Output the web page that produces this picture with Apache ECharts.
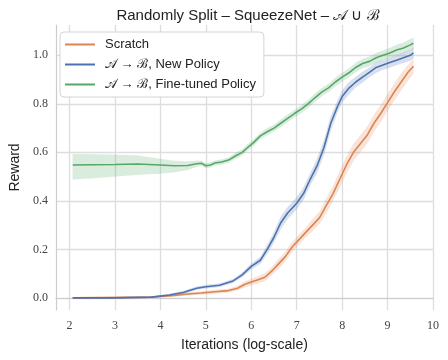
<!DOCTYPE html>
<html>
<head>
<meta charset="utf-8">
<script src="https://cdn.jsdelivr.net/npm/echarts@6/dist/echarts.min.js"></script>
<style>
  html, body { margin: 0; padding: 0; background: #fff; }
  #chart { width: 448px; height: 360px; }
</style>
</head>
<body>
<div id="chart"></div>
<script>
  // values
  var xTicks = [2, 3, 4, 5, 6, 7, 8, 9, 10];
  var yTicks = [0, 0.2, 0.4, 0.6, 0.8, 1.0];

  // Scratch
  var oX    = [2.07, 3.8, 4.3, 4.6, 4.9, 5.2, 5.5, 5.7, 5.85, 6.0, 6.15, 6.3, 6.45, 6.6, 6.75, 6.9, 7.05, 7.2, 7.35, 7.5, 7.65, 7.8, 7.95, 8.1, 8.25, 8.4, 8.55, 8.7, 8.85, 9.0, 9.15, 9.3, 9.45, 9.57];
  var oMean = [0, 0.003, 0.01, 0.016, 0.02, 0.025, 0.03, 0.04, 0.055, 0.065, 0.075, 0.085, 0.11, 0.14, 0.17, 0.21, 0.24, 0.27, 0.3, 0.33, 0.38, 0.43, 0.49, 0.55, 0.6, 0.635, 0.67, 0.72, 0.76, 0.805, 0.85, 0.89, 0.93, 0.955];
  var oLo   = [0, 0.0, 0.005, 0.01, 0.013, 0.017, 0.022, 0.03, 0.043, 0.052, 0.06, 0.07, 0.093, 0.12, 0.15, 0.19, 0.22, 0.25, 0.275, 0.305, 0.35, 0.4, 0.455, 0.515, 0.565, 0.6, 0.635, 0.685, 0.725, 0.77, 0.815, 0.855, 0.895, 0.925];
  var oHi   = [0, 0.006, 0.015, 0.022, 0.027, 0.033, 0.038, 0.05, 0.067, 0.078, 0.09, 0.1, 0.127, 0.16, 0.19, 0.23, 0.26, 0.29, 0.325, 0.355, 0.41, 0.46, 0.525, 0.585, 0.635, 0.67, 0.705, 0.755, 0.795, 0.84, 0.885, 0.925, 0.96, 0.985];

  // A -> B, New Policy
  var bX    = [2.07, 3.0, 3.8, 4.2, 4.5, 4.8, 5.0, 5.3, 5.6, 5.8, 6.0, 6.2, 6.35, 6.5, 6.65, 6.8, 7.0, 7.15, 7.3, 7.45, 7.6, 7.75, 7.9, 8.0, 8.15, 8.3, 8.45, 8.6, 8.75, 8.9, 9.05, 9.2, 9.35, 9.5, 9.57];
  var bMean = [0, 0, 0.003, 0.012, 0.022, 0.04, 0.046, 0.052, 0.07, 0.095, 0.13, 0.155, 0.2, 0.25, 0.31, 0.35, 0.39, 0.43, 0.49, 0.545, 0.62, 0.72, 0.79, 0.83, 0.865, 0.89, 0.91, 0.93, 0.95, 0.96, 0.97, 0.98, 0.99, 1.0, 1.01];
  var bLo   = [0, 0, 0.0, 0.007, 0.016, 0.033, 0.039, 0.045, 0.062, 0.085, 0.118, 0.14, 0.182, 0.228, 0.285, 0.325, 0.365, 0.405, 0.465, 0.515, 0.59, 0.69, 0.765, 0.805, 0.84, 0.868, 0.888, 0.91, 0.928, 0.94, 0.95, 0.96, 0.968, 0.978, 0.987];
  var bHi   = [0, 0, 0.006, 0.017, 0.028, 0.047, 0.053, 0.059, 0.078, 0.105, 0.142, 0.17, 0.218, 0.272, 0.335, 0.375, 0.415, 0.455, 0.515, 0.575, 0.65, 0.75, 0.815, 0.855, 0.89, 0.912, 0.932, 0.95, 0.972, 0.98, 0.99, 1.0, 1.012, 1.022, 1.033];

  // A -> B, Fine-tuned Policy
  var gX    = [2.07, 2.5, 3.0, 3.5, 4.0, 4.3, 4.6, 4.8, 4.9, 5.0, 5.1, 5.2, 5.35, 5.5, 5.65, 5.8, 5.95, 6.05, 6.2, 6.35, 6.5, 6.65, 6.8, 6.95, 7.1, 7.25, 7.4, 7.55, 7.7, 7.85, 8.0, 8.15, 8.3, 8.45, 8.6, 8.75, 8.9, 9.05, 9.2, 9.35, 9.5, 9.57];
  var gMean = [0.548, 0.549, 0.55, 0.552, 0.548, 0.545, 0.546, 0.553, 0.555, 0.545, 0.548, 0.556, 0.56, 0.568, 0.585, 0.6, 0.625, 0.64, 0.668, 0.685, 0.7, 0.72, 0.74, 0.76, 0.778, 0.8, 0.825, 0.848, 0.866, 0.89, 0.91, 0.928, 0.95, 0.966, 0.975, 0.99, 1.0, 1.01, 1.022, 1.03, 1.043, 1.05];
  var gLo   = [0.488, 0.493, 0.5, 0.508, 0.513, 0.518, 0.527, 0.541, 0.545, 0.535, 0.538, 0.546, 0.55, 0.557, 0.573, 0.588, 0.612, 0.627, 0.655, 0.671, 0.686, 0.705, 0.725, 0.745, 0.762, 0.784, 0.808, 0.831, 0.849, 0.872, 0.892, 0.91, 0.931, 0.947, 0.956, 0.97, 0.98, 0.99, 1.0, 1.008, 1.02, 1.027];
  var gHi   = [0.593, 0.592, 0.59, 0.587, 0.573, 0.565, 0.562, 0.565, 0.565, 0.555, 0.558, 0.566, 0.57, 0.579, 0.597, 0.612, 0.638, 0.653, 0.681, 0.699, 0.714, 0.735, 0.755, 0.775, 0.794, 0.816, 0.842, 0.865, 0.883, 0.908, 0.928, 0.946, 0.969, 0.985, 0.994, 1.01, 1.02, 1.03, 1.044, 1.052, 1.066, 1.073];

  var ORANGE = '#dd8452', BLUE = '#4c72b0', GREEN = '#55a868';
  var A2B = '\u{1D49C} \u2192 \u212C';

  function pairs(xs, ys) {
    return xs.map(function (x, i) { return [x, ys[i]]; });
  }

  // shaded band: one polygon drawn through the axes (upper edge, then lower edge back)
  function band(xs, lo, hi, color) {
    return {
      type: 'custom', silent: true, z: 1,
      data: xs.map(function (x, i) { return [x, lo[i], hi[i]]; }),
      encode: { x: 0, y: [1, 2] },
      renderItem: function (params, api) {
        if (params.dataIndex !== 0) return null;
        var pts = [];
        for (var i = 0; i < xs.length; i++) pts.push(api.coord([xs[i], hi[i]]));
        for (var j = xs.length - 1; j >= 0; j--) pts.push(api.coord([xs[j], lo[j]]));
        return {
          type: 'polygon',
          shape: { points: pts },
          style: { fill: color, opacity: 0.22, stroke: color, lineWidth: 0.5, strokeOpacity: 0.3 }
        };
      }
    };
  }

  function meanLine(name, xs, ys, color) {
    return {
      name: name, type: 'line', symbol: 'none', z: 3, legendIcon: 'rect',
      lineStyle: { width: 1.6, color: color }, itemStyle: { color: color },
      data: pairs(xs, ys)
    };
  }

  var chart = echarts.init(document.getElementById('chart'));

  chart.setOption({
    animation: false,
    title: {
      text: 'Randomly Split \u2013 SqueezeNet \u2013 \u{1D49C} \u222A \u212C',
      left: 243, top: 3, textAlign: 'center',
      textStyle: { fontFamily: 'Liberation Sans', fontSize: 15, fontWeight: 'normal', color: '#222' }
    },
    grid: { left: 52, right: 15, top: 25, bottom: 50 },
    legend: {
      data: ['Scratch', A2B + ', New Policy', A2B + ', Fine-tuned Policy'],
      orient: 'vertical', left: 60, top: 32,
      itemWidth: 30, itemHeight: 2, itemGap: 5,
      padding: [5, 8, 5, 4],
      backgroundColor: '#fff', borderColor: '#d4d4d4', borderWidth: 1, borderRadius: 4,
      textStyle: { fontFamily: 'Liberation Sans', fontSize: 13, color: '#222', lineHeight: 15, padding: [0, 0, 0, 5] }
    },
    xAxis: {
      type: 'value', min: 1.7, max: 10,
      name: 'Iterations (log-scale)', nameLocation: 'middle', nameGap: 28,
      nameTextStyle: { fontFamily: 'Liberation Sans', fontSize: 14, color: '#222' },
      axisLine: { lineStyle: { color: '#cccccc', width: 1.2 } },
      axisTick: { show: false, customValues: xTicks },
      axisLabel: { customValues: xTicks, fontFamily: 'Liberation Serif', fontSize: 12, color: '#444', margin: 10 },
      splitLine: { show: true, lineStyle: { color: '#dddddd', width: 1.3 } }
    },
    yAxis: {
      type: 'value', min: -0.05, max: 1.125,
      name: 'Reward', nameLocation: 'middle', nameGap: 28,
      nameTextStyle: { fontFamily: 'Liberation Sans', fontSize: 14, color: '#222' },
      axisLine: { show: true, lineStyle: { color: '#cccccc', width: 1.2 } },
      axisTick: { show: false, customValues: yTicks },
      axisLabel: {
        customValues: yTicks, fontFamily: 'Liberation Serif', fontSize: 12, color: '#444', margin: 8,
        formatter: function (v) { return v.toFixed(1); }
      },
      splitLine: { show: true, lineStyle: { color: '#dddddd', width: 1.3 } }
    },
    series: [
      band(oX, oLo, oHi, ORANGE),
      band(bX, bLo, bHi, BLUE),
      band(gX, gLo, gHi, GREEN),
      meanLine('Scratch', oX, oMean, ORANGE),
      meanLine(A2B + ', New Policy', bX, bMean, BLUE),
      meanLine(A2B + ', Fine-tuned Policy', gX, gMean, GREEN)
    ]
  });
</script>
</body>
</html>
